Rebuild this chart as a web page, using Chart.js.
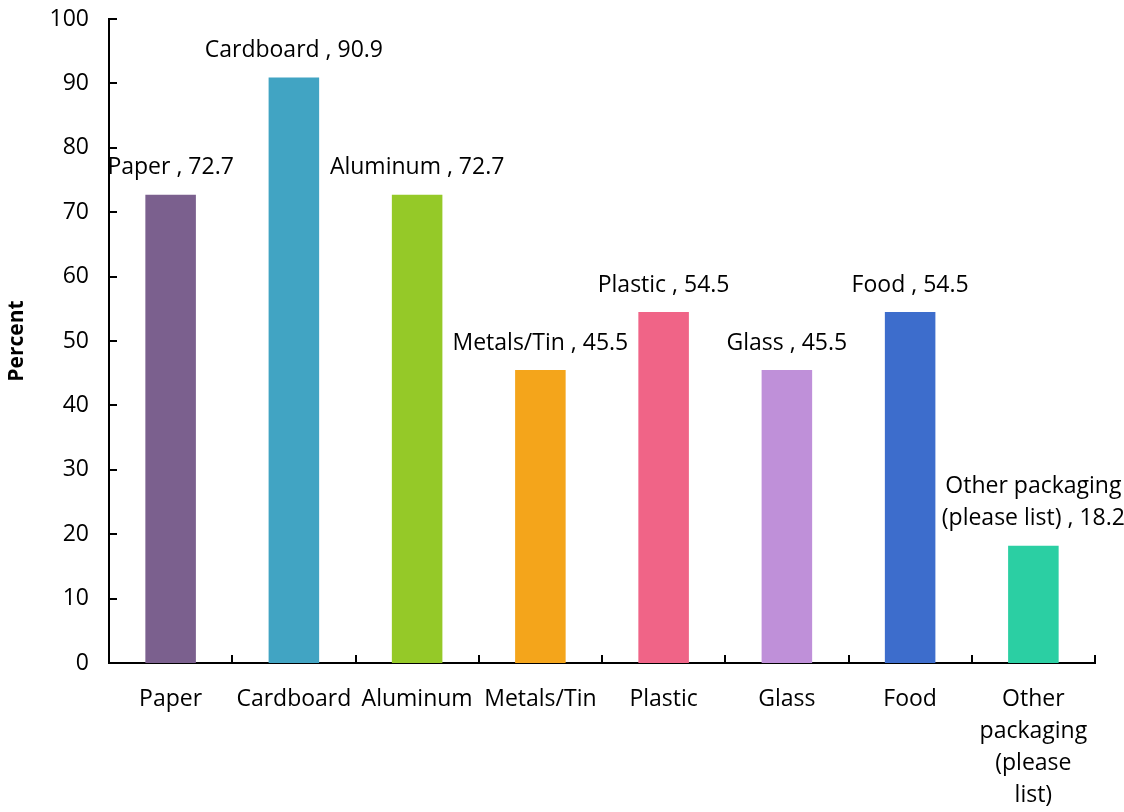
<!DOCTYPE html>
<html>
<head>
<meta charset="utf-8">
<script src="https://cdn.jsdelivr.net/npm/chart.js@4"></script>
<style>
  html, body { margin: 0; padding: 0; background: #fff; }
  #wrap { width: 1124px; height: 812px; }
</style>
</head>
<body>
<div id="wrap"><canvas id="myChart" width="1124" height="812"></canvas></div>
<script>
// Data
const categories = ["Paper", "Cardboard", "Aluminum", "Metals/Tin", "Plastic", "Glass", "Food", "Other packaging (please list)"];
const axisLabels = [["Paper"], ["Cardboard"], ["Aluminum"], ["Metals/Tin"], ["Plastic"], ["Glass"], ["Food"], ["Other", "packaging", "(please", "list)"]];
const barLabels = [["Paper , 72.7"], ["Cardboard , 90.9"], ["Aluminum , 72.7"], ["Metals/Tin , 45.5"], ["Plastic , 54.5"], ["Glass , 45.5"], ["Food , 54.5"], ["Other packaging", "(please list) , 18.2"]];
const percents = [72.7, 90.9, 72.7, 45.5, 54.5, 45.5, 54.5, 18.2];
const barColors = ["#7B608E", "#41A4C3", "#95C928", "#F4A51B", "#F06487", "#BF90D9", "#3D6DCC", "#2BCFA3"];
const yTicks = [0, 10, 20, 30, 40, 50, 60, 70, 80, 90, 100];

const FONT = "'Open Sans', Lato, sans-serif";

// inside tick marks + bar labels
const extras = {
  id: "extras",
  afterDatasetsDraw(chart) {
    const c = chart.ctx;
    const x = chart.scales.x;
    const y = chart.scales.y;
    const area = chart.chartArea;
    c.save();
    c.strokeStyle = "#000";
    c.lineWidth = 2;
    c.beginPath();
    yTicks.forEach((v) => {
      const py = Math.round(y.getPixelForValue(v));
      c.moveTo(area.left, py);
      c.lineTo(area.left + 8, py);
    });
    for (let k = 1; k <= categories.length; k++) {
      const px = Math.round((x.getPixelForValue(k - 1) + x.getPixelForValue(k)) / 2);
      c.moveTo(px, area.bottom);
      c.lineTo(px, area.bottom - 8);
    }
    c.stroke();

    c.fillStyle = "#000";
    c.font = "23px " + FONT;
    c.textAlign = "center";
    c.textBaseline = "middle";
    chart.getDatasetMeta(0).data.forEach((bar, k) => {
      const lines = barLabels[k];
      lines.forEach((line, j) => {
        const off = 27 + (lines.length - 1 - j) * 32;
        c.fillText(line, bar.x, bar.y - off);
      });
    });
    c.restore();
  },
};

new Chart(document.getElementById("myChart"), {
  type: "bar",
  data: {
    labels: axisLabels,
    datasets: [
      {
        label: "Percent",
        data: percents,
        backgroundColor: barColors,
        barPercentage: 0.41,
        categoryPercentage: 1,
      },
    ],
  },
  options: {
    responsive: false,
    animation: false,
    layout: { padding: { top: 0, right: 29, left: 0, bottom: 0 } },
    plugins: {
      legend: { display: false },
      tooltip: { enabled: false },
    },
    scales: {
      x: {
        grid: { display: false },
        border: { color: "#000", width: 2 },
        ticks: {
          color: "#000",
          font: { family: FONT, size: 23, lineHeight: 1.4 },
          padding: 12,
          maxRotation: 0,
          autoSkip: false,
        },
        afterFit(scale) {
          scale.height = 149;
        },
      },
      y: {
        min: 0,
        max: 100,
        grid: { display: false },
        border: { color: "#000", width: 2 },
        ticks: {
          stepSize: 10,
          color: "#000",
          font: { family: FONT, size: 23 },
          padding: 12,
        },
        title: {
          display: true,
          text: "Percent",
          color: "#000",
          font: { family: FONT, size: 21, weight: "bold" },
          padding: { top: 4, bottom: 0 },
        },
        afterFit(scale) {
          scale.width = 109;
          scale.paddingTop = 19;
        },
      },
    },
  },
  plugins: [extras],
});
</script>
</body>
</html>
